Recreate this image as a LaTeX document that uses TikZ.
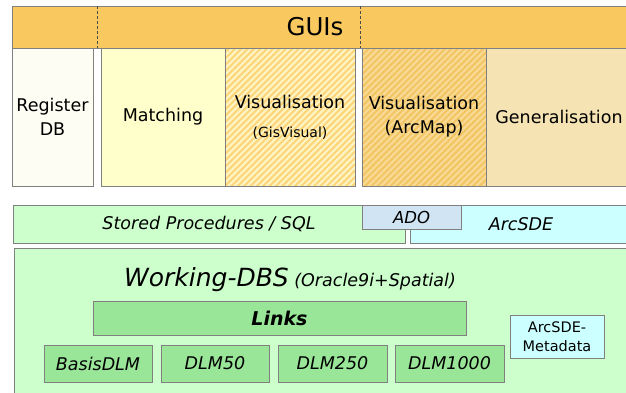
\documentclass[tikz,border=0pt]{standalone}
\usepackage{fontspec}
\setmainfont{DejaVu Sans}
\usetikzlibrary{patterns.meta}

\definecolor{guiorange}{HTML}{F9C95F}
\definecolor{regwhite}{HTML}{FDFDF3}
\definecolor{matchyellow}{HTML}{FFFFCC}
\definecolor{gisbase}{HTML}{FFF3C4}
\definecolor{gisstripe}{HTML}{FBD576}
\definecolor{arcbase}{HTML}{F8DA94}
\definecolor{arcstripe}{HTML}{F2C462}
\definecolor{genbeige}{HTML}{F5E3B3}
\definecolor{dbgreen}{HTML}{CCFFCC}
\definecolor{linkgreen}{HTML}{99E699}
\definecolor{adoblue}{HTML}{D0E4F4}
\definecolor{sdecyan}{HTML}{CCFFFF}

\newcommand{\lbl}{\fontsize{17.5}{24}\selectfont}
\newcommand{\smalllbl}{\fontsize{14}{18}\selectfont}

\begin{document}
\begin{tikzpicture}[x=1pt,y=-1pt]
\tikzstyle{every node}=[draw=black!50,line width=0.8pt,inner sep=1pt,outer sep=0pt,align=center,anchor=north west,font=\lbl]
\tikzstyle{hatched}=[pattern={Lines[angle=45,distance=4.5pt,line width=2pt]}]
\tikzstyle{plain}=[draw=none,anchor=center]

\useasboundingbox (0,0) rectangle (626,392);
\clip (0,0) rectangle (626,392);

% GUI layer
\node[fill=guiorange,minimum width=620,minimum height=42] (gui) at (12,6) {};
\node[plain,font=\fontsize{24.5}{28}\selectfont] (guititle) at (315,27) {GUIs};
\draw[densely dashed,line width=0.6pt,black!70] (97,6) -- (97,48);
\draw[densely dashed,line width=0.6pt,black!70] (360,6) -- (360,48);

\node[fill=regwhite,minimum width=81,minimum height=138] (reg) at (12,48) {Register\\DB};
\node[fill=matchyellow,minimum width=124,minimum height=138] (match) at (101,48) {Matching};
\node[preaction={fill=gisbase},hatched,pattern color=gisstripe,minimum width=130,minimum height=138] (visgis) at (225,48) {Visualisation\\[5pt]{\smalllbl(GisVisual)}};
\node[preaction={fill=arcbase},hatched,pattern color=arcstripe,minimum width=124,minimum height=138] (visarc) at (362,48) {Visualisation\\(ArcMap)};
\node[fill=genbeige,minimum width=146,minimum height=138] (gen) at (486,48) {Generalisation};

% access layer
\node[fill=dbgreen,minimum width=392,minimum height=38,font=\lbl\itshape] (sql) at (13,205) {Stored Procedures / SQL};
\node[fill=sdecyan,minimum width=222,minimum height=38,font=\lbl\itshape] (sde) at (410,205) {ArcSDE};
\node[fill=adoblue,minimum width=99,minimum height=24,font=\fontsize{16.5}{20}\selectfont\itshape] (ado) at (362,205) {ADO};

% database
\node[fill=dbgreen,minimum width=620,minimum height=152] (wdbs) at (14,248) {};
\node[plain] (wdbstitle) at (290,280) {{\fontsize{25}{30}\selectfont\itshape Working-DBS} {\itshape(Oracle9i+Spatial)}};
\node[fill=linkgreen,minimum width=373,minimum height=34,font=\fontsize{19}{22}\selectfont\bfseries\itshape] (links) at (93,301) {Links};
\node[fill=linkgreen,minimum width=108,minimum height=37,font=\lbl\itshape] (basis) at (44,345) {BasisDLM};
\node[fill=linkgreen,minimum width=108,minimum height=37,font=\lbl\itshape] (dlm50) at (161,345) {DLM50};
\node[fill=linkgreen,minimum width=109,minimum height=37,font=\lbl\itshape] (dlm250) at (278,345) {DLM250};
\node[fill=linkgreen,minimum width=109,minimum height=37,font=\lbl\itshape] (dlm1000) at (395,345) {DLM1000};
\node[fill=sdecyan,minimum width=94,minimum height=43,font=\fontsize{14.5}{19}\selectfont] (meta) at (510,315) {ArcSDE-\\Metadata};
\end{tikzpicture}
\end{document}
